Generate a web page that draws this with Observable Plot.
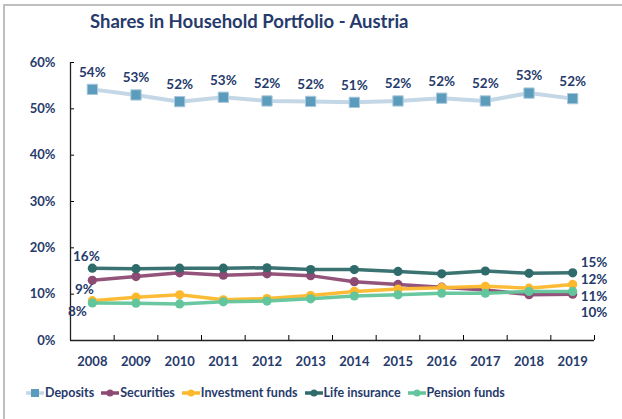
<!DOCTYPE html>
<html>
<head>
<meta charset="utf-8">
<script src="https://cdn.jsdelivr.net/npm/d3@7"></script>
<script src="https://cdn.jsdelivr.net/npm/@observablehq/plot@0.6"></script>
<style>
  html, body { margin: 0; padding: 0; background: #fff; }
  #wrap { position: relative; width: 622px; height: 419px; overflow: hidden; font-family: Lato, "Open Sans", sans-serif; }
  #border { position: absolute; left: 3px; top: 4px; width: 640px; height: 440px; border-left: 2px solid #bfbfbf; border-top: 2px solid #bfbfbf; box-sizing: border-box; }
  #title { position: absolute; left: 90px; top: 10px; white-space: nowrap; font-weight: bold; font-size: 18.5px; color: #263a6b; }
  #chart { position: absolute; left: 0; top: 0; }
  #legend { position: absolute; left: 26px; top: 385px; display: flex; gap: 7px; font-weight: bold; font-size: 12.5px; color: #263a6b; align-items: center; }
  .item { display: flex; align-items: center; gap: 1px; }
</style>
</head>
<body>
<div id="wrap">
  <div id="border"></div>
  <div id="chart"></div>
  <div id="title">Shares in Household Portfolio - Austria</div>
  <div id="legend"></div>
</div>
<script>
const years = [2008, 2009, 2010, 2011, 2012, 2013, 2014, 2015, 2016, 2017, 2018, 2019];
const deposits        = [54.2, 53.0, 51.55, 52.5, 51.7, 51.6, 51.4, 51.7, 52.3, 51.7, 53.4, 52.2];
const securities      = [13.0, 13.8, 14.6, 14.1, 14.4, 14.0, 12.7, 12.1, 11.5, 10.9, 9.9, 10.0];
const investmentFunds = [8.6, 9.35, 9.85, 8.8, 9.05, 9.7, 10.6, 11.1, 11.4, 11.7, 11.3, 12.1];
const lifeInsurance   = [15.6, 15.5, 15.6, 15.6, 15.7, 15.3, 15.3, 14.9, 14.4, 15.0, 14.5, 14.6];
const pensionFunds    = [8.1, 8.05, 7.9, 8.35, 8.5, 9.0, 9.6, 9.85, 10.2, 10.2, 10.6, 10.6];
const seriesNames = ["Deposits", "Securities", "Investment funds", "Life insurance", "Pension funds"];
const yTicks = [0, 10, 20, 30, 40, 50, 60];

const colors = {
  "Deposits": {line: "#c3d7e7", mark: "#5b9bbb"},
  "Securities": {line: "#8d4a73", mark: "#8d4a73"},
  "Investment funds": {line: "#fdb82c", mark: "#fdb82c"},
  "Life insurance": {line: "#2f6b6a", mark: "#2f6b6a"},
  "Pension funds": {line: "#62c59b", mark: "#62c59b"}
};
const valuesBySeries = [deposits, securities, investmentFunds, lifeInsurance, pensionFunds];
const rows = seriesNames.flatMap((s, i) => years.map((y, j) => ({series: s, year: y, value: valuesBySeries[i][j]})));
const of = s => rows.filter(d => d.series === s);

const boundaries = d3.range(years.length + 1).map(i => years[0] - 0.5 + i);
const navy = "#263a6b";
const pct = d => Math.round(d) + "%";

const marks = [
  Plot.axisY(yTicks, {tickSize: 0, tickPadding: 15, tickFormat: d => d + "%", fontWeight: "bold", fontSize: 13, fill: navy, label: null}),
  Plot.axisY(yTicks, {tickSize: 4, tickFormat: () => "", anchor: "left", dx: 4, label: null}),
  Plot.axisX(years, {tickSize: 0, tickPadding: 16, tickFormat: d => String(d), fontWeight: "bold", fontSize: 13, fill: navy, label: null}),
  Plot.axisX(boundaries, {tickSize: 5, tickFormat: () => "", anchor: "bottom", dy: -5, label: null}),
  Plot.ruleX([boundaries[0]], {stroke: "#222", strokeWidth: 1.3}),
  Plot.ruleY([0], {stroke: "#222", strokeWidth: 1.3})
];

for (const s of seriesNames) {
  const c = colors[s];
  const data = of(s);
  if (s === "Deposits") {
    marks.push(Plot.line(data, {x: "year", y: "value", stroke: c.line, strokeWidth: 4}));
    marks.push(Plot.dot(data, {x: "year", y: "value", symbol: "square", r: 5.8, fill: c.mark, stroke: "#a9c8dc", strokeWidth: 1}));
  } else {
    marks.push(Plot.line(data, {x: "year", y: "value", stroke: c.line, strokeWidth: 3.5, strokeOpacity: 0.95}));
    marks.push(Plot.dot(data, {x: "year", y: "value", r: 4.6, fill: c.mark, stroke: "none"}));
  }
}

const labelStyle = {fill: navy, fontWeight: "bold", fontSize: 13.5};
marks.push(Plot.text(of("Deposits"), {x: "year", y: "value", text: d => pct(d.value), dy: -17, ...labelStyle}));
const first = s => of(s).filter(d => d.year === years[0]);
const last = s => of(s).filter(d => d.year === years[years.length - 1]);
marks.push(Plot.text(first("Life insurance"), {x: "year", y: "value", text: d => pct(d.value), dx: -6, dy: -12, ...labelStyle}));
marks.push(Plot.text(first("Investment funds"), {x: "year", y: "value", text: d => pct(d.value), dx: -8, dy: -11, ...labelStyle}));
marks.push(Plot.text(first("Pension funds"), {x: "year", y: "value", text: d => pct(d.value), dx: -15, dy: 9, ...labelStyle}));
marks.push(Plot.text(last("Life insurance"), {x: "year", y: "value", text: d => pct(d.value), dx: 8, dy: -10, textAnchor: "start", ...labelStyle}));
marks.push(Plot.text(last("Investment funds"), {x: "year", y: "value", text: d => pct(d.value), dx: 8, dy: -5, textAnchor: "start", ...labelStyle}));
marks.push(Plot.text(last("Pension funds"), {x: "year", y: "value", text: d => pct(d.value), dx: 8, dy: 5, textAnchor: "start", ...labelStyle}));
marks.push(Plot.text(last("Securities"), {x: "year", y: "value", text: d => pct(d.value), dx: 8, dy: 19, textAnchor: "start", ...labelStyle}));

const chart = Plot.plot({
  width: 622,
  height: 419,
  marginTop: 62,
  marginBottom: 79,
  marginLeft: 70,
  marginRight: 28,
  style: {fontFamily: "Lato, 'Open Sans', sans-serif", background: "transparent", overflow: "visible"},
  x: {type: "linear", domain: [boundaries[0], boundaries[boundaries.length - 1]], axis: null, label: null},
  y: {domain: [0, 60], axis: null, label: null},
  marks
});
document.getElementById("chart").appendChild(chart);

const legend = document.getElementById("legend");
for (const s of seriesNames) {
  const c = colors[s];
  const item = document.createElement("div");
  item.className = "item";
  const marker = s === "Deposits"
    ? `<rect x="5" y="3" width="8" height="8" fill="${c.mark}"/>`
    : `<circle cx="9" cy="7" r="3.5" fill="${c.mark}"/>`;
  item.innerHTML = `<svg width="18" height="14"><line x1="0" x2="18" y1="7" y2="7" stroke="${c.line}" stroke-width="3.5"/>${marker}</svg><span>${s}</span>`;
  legend.appendChild(item);
}
</script>
</body>
</html>
